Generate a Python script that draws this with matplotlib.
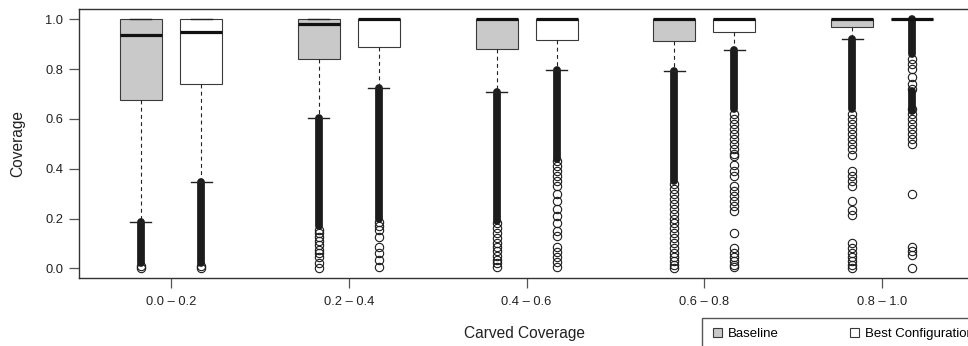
import matplotlib.pyplot as plt
from matplotlib.patches import Patch, Rectangle

plt.rcParams['font.family'] = ['Liberation Sans', 'DejaVu Sans']

# carved coverage bins
groups = ['0.0 – 0.2', '0.2 – 0.4', '0.4 – 0.6', '0.6 – 0.8', '0.8 – 1.0']

# Baseline box stats
base_q1 = [0.676, 0.839, 0.882, 0.914, 0.968]
base_med = [0.938, 0.981, 1.0, 1.0, 1.0]
base_q3 = [1.0, 1.0, 1.0, 1.0, 1.0]
base_whislo = [0.186, 0.602, 0.709, 0.792, 0.921]
# runs of overlapping outliers (top, bottom) that merge into a solid column
base_dense = [[(0.186, 0.02)], [(0.602, 0.17)], [(0.709, 0.19)], [(0.792, 0.35)], [(0.921, 0.64)]]
base_sparse = [
    [0.01, 0.0],
    [0.154, 0.14, 0.126, 0.11, 0.094, 0.073, 0.06, 0.045, 0.021, 0.001],
    [0.18, 0.16, 0.14, 0.12, 0.10, 0.085, 0.07, 0.05, 0.035, 0.02, 0.005],
    [0.34, 0.32, 0.30, 0.28, 0.26, 0.24, 0.22, 0.20, 0.18, 0.16, 0.14, 0.12, 0.10,
     0.08, 0.06, 0.045, 0.03, 0.015, 0.0],
    [0.62, 0.60, 0.58, 0.56, 0.54, 0.52, 0.50, 0.48, 0.455, 0.39, 0.37, 0.35, 0.33,
     0.27, 0.235, 0.215, 0.10, 0.08, 0.06, 0.045, 0.03, 0.015, 0.0],
]

# Best Configuration box stats
best_q1 = [0.739, 0.889, 0.917, 0.949, 1.0]
best_med = [0.950, 1.0, 1.0, 1.0, 1.0]
best_q3 = [1.0, 1.0, 1.0, 1.0, 1.0]
best_whislo = [0.348, 0.724, 0.796, 0.875, 1.0]
best_dense = [[(0.348, 0.02)], [(0.724, 0.20)], [(0.796, 0.44)], [(0.875, 0.64)],
              [(1.0, 0.86), (0.71, 0.63)]]
best_sparse = [
    [0.01, 0.0],
    [0.187, 0.17, 0.154, 0.124, 0.087, 0.060, 0.033, 0.006],
    [0.43, 0.41, 0.39, 0.37, 0.35, 0.33, 0.30, 0.27, 0.24, 0.21, 0.18, 0.15, 0.13,
     0.085, 0.065, 0.045, 0.025, 0.005],
    [0.62, 0.60, 0.58, 0.56, 0.54, 0.52, 0.50, 0.48, 0.46, 0.45, 0.415, 0.39, 0.37,
     0.33, 0.31, 0.29, 0.27, 0.25, 0.23, 0.14, 0.08, 0.06, 0.045, 0.03, 0.015, 0.005],
    [0.84, 0.82, 0.80, 0.77, 0.74, 0.72, 0.64, 0.62, 0.60, 0.58, 0.56, 0.54, 0.52,
     0.50, 0.30, 0.085, 0.07, 0.055, 0.0],
]

base_color = '#c9c9c9'
edge = '#3a3a3a'
offset = 0.169
width = 0.236

W, H = 968, 346
fig = plt.figure(figsize=(W / 100, H / 100), dpi=100)
ax = fig.add_axes([0.0813, 0.1957, 0.9254, 0.7775])

centers = range(1, len(groups) + 1)
stats, positions, fills = [], [], []
for i, c in enumerate(centers):
    stats.append(dict(med=base_med[i], q1=base_q1[i], q3=base_q3[i],
                      whislo=base_whislo[i], whishi=base_q3[i], fliers=[]))
    positions.append(c - offset)
    fills.append(base_color)
    stats.append(dict(med=best_med[i], q1=best_q1[i], q3=best_q3[i],
                      whislo=best_whislo[i], whishi=best_q3[i], fliers=[]))
    positions.append(c + offset)
    fills.append('white')

# outlier columns go underneath the boxes and whiskers
dense_all = [d for pair in zip(base_dense, best_dense) for d in pair]
sparse_all = [s for pair in zip(base_sparse, best_sparse) for s in pair]
for x, segs, pts in zip(positions, dense_all, sparse_all):
    for top, bottom in segs:
        ax.plot([x, x], [bottom, top], color='#1c1c1c', lw=5.6,
                solid_capstyle='round', zorder=1)
    ax.plot([x] * len(pts), pts, 'o', ms=6, mfc='none', mec='#1c1c1c',
            mew=0.8, zorder=1.5)

bp = ax.bxp(stats, positions=positions, widths=width, capwidths=width / 2,
            patch_artist=True, showfliers=False, manage_ticks=False,
            boxprops=dict(edgecolor=edge, linewidth=0.8),
            medianprops=dict(color='#111111', linewidth=2.3, solid_capstyle='butt'),
            whiskerprops=dict(color='#222222', linewidth=0.8, linestyle=(0, (3.5, 3))),
            capprops=dict(color='#222222', linewidth=1.0))
for box, fc in zip(bp['boxes'], fills):
    box.set_facecolor(fc)

ax.set_xlim(0.481, 5.519)
ax.set_ylim(-0.04, 1.04)
ax.set_xticks(list(centers))
ax.set_xticklabels(groups)
ax.set_yticks([0.0, 0.2, 0.4, 0.6, 0.8, 1.0])
ax.set_yticklabels(['0.0', '0.2', '0.4', '0.6', '0.8', '1.0'])
ax.tick_params(axis='both', length=7.5, width=0.9, color='#555555',
               labelsize=9.3, labelcolor='#222222')
ax.tick_params(axis='x', pad=5.5)
ax.tick_params(axis='y', pad=3.5)
for side in ['left', 'top', 'bottom']:
    ax.spines[side].set_color('#333333')
    ax.spines[side].set_linewidth(1.0)
ax.spines['right'].set_visible(False)

ax.set_ylabel('Coverage', fontsize=11.2, color='#222222')
ax.yaxis.set_label_coords(-0.068, 0.5)
ax.set_xlabel('Carved Coverage', fontsize=11.2, color='#222222')
ax.xaxis.set_label_coords(0.498, -0.207)
ax.xaxis.label.set_va('center')
ax.yaxis.label.set_va('center')

# legend box runs off the lower right corner
fig.patches.append(Rectangle((702 / W, 1 - 360 / H), 400 / W, (360 - 317.5) / H,
                             transform=fig.transFigure, facecolor='white',
                             edgecolor='#555555', linewidth=1.0, zorder=0))
handles = [Patch(facecolor=base_color, edgecolor=edge, linewidth=0.8, label='Baseline'),
           Patch(facecolor='white', edgecolor=edge, linewidth=0.8, label='Best Configuration')]
fig.legend(handles=handles, loc='center left', bbox_to_anchor=(713 / W, 1 - 334 / H),
           ncol=2, frameon=False, handlelength=0.7, handleheight=0.7,
           handletextpad=0.42, columnspacing=5.4, borderpad=0, borderaxespad=0,
           fontsize=9.5)

fig.savefig('out.png', dpi=100)
